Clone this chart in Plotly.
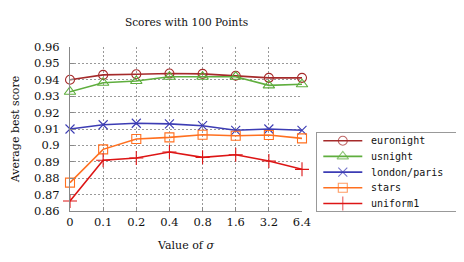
import plotly.graph_objects as go

sigma_labels = ["0", "0.1", "0.2", "0.4", "0.8", "1.6", "3.2", "6.4"]
euronight = [0.9400, 0.9430, 0.9434, 0.9438, 0.9436, 0.9425, 0.9412, 0.9412]
usnight = [0.9327, 0.9382, 0.9393, 0.9419, 0.9419, 0.9419, 0.9366, 0.9373]
london_paris = [0.9100, 0.9126, 0.9135, 0.9131, 0.9120, 0.9092, 0.9100, 0.9092]
stars = [0.8773, 0.8976, 0.9039, 0.9049, 0.9065, 0.9059, 0.9063, 0.9043]
uniform1 = [0.8661, 0.8909, 0.8923, 0.8960, 0.8927, 0.8943, 0.8905, 0.8854]
y_ticks = [0.86, 0.87, 0.88, 0.89, 0.9, 0.91, 0.92, 0.93, 0.94, 0.95, 0.96]
y_tick_text = ["0.86", "0.87", "0.88", "0.89", "0.9", "0.91", "0.92", "0.93", "0.94", "0.95", "0.96"]

series = [
    ("euronight", euronight, "#a52a2a", "circle-open", 9),
    ("usnight", usnight, "#5fae3e", "triangle-up-open", 10),
    ("london/paris", london_paris, "#3c3cb4", "x-thin-open", 9),
    ("stars", stars, "#ff7020", "square-open", 9),
    ("uniform1", uniform1, "#dd1515", "cross-thin-open", 10),
]

W, H = 464, 262
OFF = 8  # page body margin offset


def px(x):
    return (x - OFF) / W


def py(y):
    return 1 - (y - OFF) / H


fig = go.Figure()
for name, vals, color, sym, size in series:
    fig.add_trace(go.Scatter(
        x=sigma_labels, y=vals, name=name, mode="lines+markers",
        line=dict(color=color, width=1.6),
        marker=dict(symbol=sym, size=size, color=color, line=dict(color=color, width=1.1)),
        cliponaxis=False, showlegend=False, xaxis="x", yaxis="y",
    ))

# custom legend drawn in a small pixel-unit axes box
LEG_W, LEG_H = 140, 78
row_h = 15.7
annotations = []
for i, (name, vals, color, sym, size) in enumerate(series):
    yc = LEG_H - 7.7 - row_h * i
    fig.add_trace(go.Scatter(
        x=[6.3, 25.8, 45.3], y=[yc, yc, yc], mode="lines+markers",
        line=dict(color=color, width=1.6),
        marker=dict(symbol=sym, size=[0, size, 0], color=color, line=dict(color=color, width=1.1)),
        showlegend=False, hoverinfo="skip", xaxis="x2", yaxis="y2", cliponaxis=False,
    ))
    annotations.append(dict(
        x=52, y=yc, xref="x2", yref="y2", text=name, showarrow=False,
        xanchor="left", yanchor="middle",
        font=dict(family="DejaVu Sans Mono", size=10, color="#111"),
    ))

serif = "DejaVu Serif"
fig.update_layout(
    width=W, height=H,
    margin=dict(l=0, r=0, t=0, b=0),
    paper_bgcolor="white", plot_bgcolor="white",
    title=dict(text="Scores with 100 Points", x=px(186.5), xanchor="center", y=py(22), yanchor="middle",
               font=dict(family=serif, size=10.6, color="#111")),
    font=dict(family=serif, size=11, color="#111"),
    showlegend=False,
    annotations=annotations,
    xaxis=dict(
        domain=[px(70), px(302)], anchor="y",
        type="category", range=[0, 7], showgrid=True, gridcolor="#999", griddash="2px,2px", gridwidth=1,
        showline=True, linecolor="#888", linewidth=1,
        ticks="inside", ticklen=4, tickcolor="#888", automargin=False,
        title=dict(text="Value of <i>σ</i>", font=dict(family=serif, size=11), standoff=13),
        tickfont=dict(family=serif, size=11.5), zeroline=False,
    ),
    yaxis=dict(
        domain=[py(211), py(47)], anchor="x",
        range=[0.86, 0.96], tickvals=y_ticks, ticktext=y_tick_text,
        showgrid=True, gridcolor="#999", griddash="2px,2px", gridwidth=1,
        showline=True, linecolor="#888", linewidth=1,
        ticks="inside", ticklen=4, tickcolor="#888", automargin=False,
        ticklabelstandoff=7,
        title=dict(text="Average best score", font=dict(family=serif, size=11), standoff=12),
        tickfont=dict(family=serif, size=11.5), zeroline=False,
    ),
    xaxis2=dict(
        domain=[px(317), px(457)], anchor="y2", range=[0, LEG_W],
        showgrid=False, zeroline=False, showticklabels=False, ticks="",
        showline=True, mirror=True, linecolor="#999", linewidth=1, automargin=False, fixedrange=True,
    ),
    yaxis2=dict(
        domain=[py(211), py(133)], anchor="x2", range=[0, LEG_H],
        showgrid=False, zeroline=False, showticklabels=False, ticks="",
        showline=True, mirror=True, linecolor="#999", linewidth=1, automargin=False, fixedrange=True,
    ),
)
fig.write_html("out.html")
